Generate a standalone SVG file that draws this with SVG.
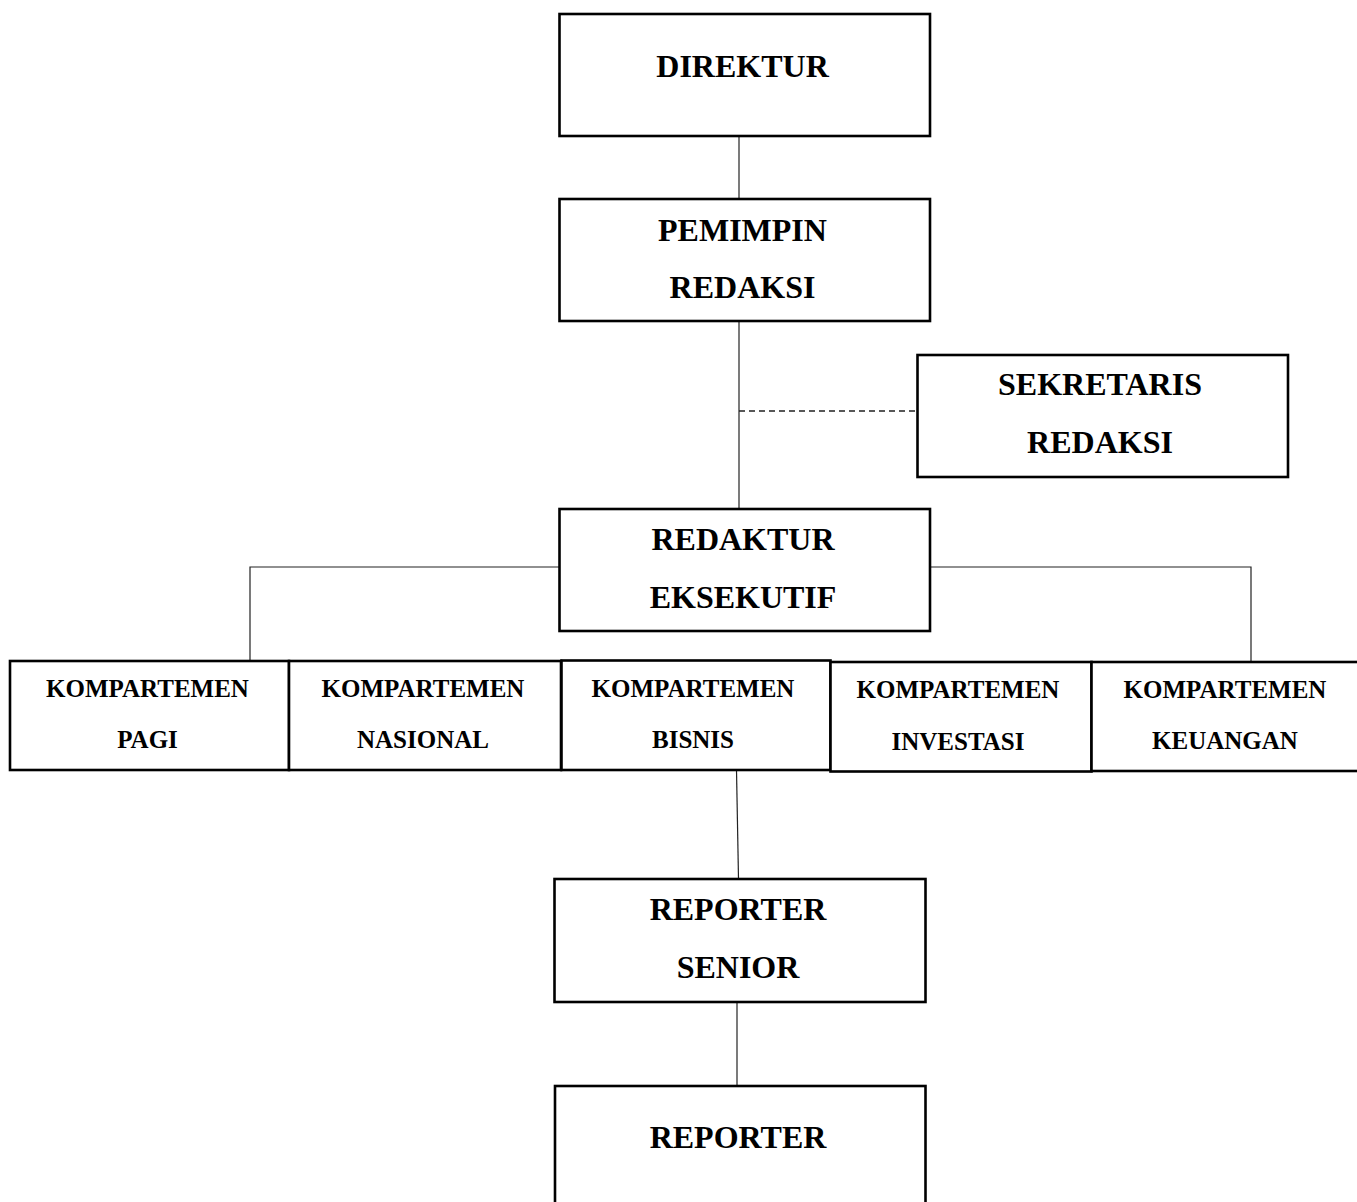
<svg xmlns="http://www.w3.org/2000/svg" width="1357" height="1202" viewBox="0 0 1357 1202">
<style>
.box{fill:#fff;stroke:#000;stroke-width:2.6}
.t{font-family:"Liberation Serif","Times New Roman",serif;font-weight:bold;font-size:32px;fill:#000;text-anchor:middle}
.s{font-family:"Liberation Serif","Times New Roman",serif;font-weight:bold;font-size:25px;fill:#000;text-anchor:middle}
.c{fill:none;stroke:#222;stroke-width:1.2}
.d{fill:none;stroke:#222;stroke-width:1.6;stroke-dasharray:6 4}
</style>
<rect width="1357" height="1202" fill="#fff"/>
<g id="connectors">
<line class="c" x1="739" y1="136" x2="739" y2="199"/>
<line class="c" x1="739" y1="321" x2="739" y2="509"/>
<line class="d" x1="739" y1="411" x2="917" y2="411"/>
<polyline class="c" points="559,567 250,567 250,661"/>
<polyline class="c" points="930,567 1251,567 1251,662"/>
<line class="c" x1="736.5" y1="770" x2="738.5" y2="879"/>
<line class="c" x1="737" y1="1002" x2="737" y2="1086"/>
</g>
<g id="direktur">
<rect class="box" x="559.5" y="14" width="370.5" height="122"/>
<text class="t" x="742.5" y="77">DIREKTUR</text>
</g>
<g id="pemimpin-redaksi">
<rect class="box" x="559.5" y="199" width="370.5" height="122"/>
<text class="t" x="742.5" y="241">PEMIMPIN</text>
<text class="t" x="742.5" y="298">REDAKSI</text>
</g>
<g id="sekretaris-redaksi">
<rect class="box" x="917.5" y="355" width="370.5" height="122"/>
<text class="t" x="1100" y="395">SEKRETARIS</text>
<text class="t" x="1100" y="453">REDAKSI</text>
</g>
<g id="redaktur-eksekutif">
<rect class="box" x="559.5" y="509" width="370.5" height="122"/>
<text class="t" x="743" y="550">REDAKTUR</text>
<text class="t" x="743" y="608">EKSEKUTIF</text>
</g>
<g id="komp-pagi">
<rect class="box" x="10" y="661" width="279" height="109"/>
<text class="s" x="147.5" y="697">KOMPARTEMEN</text>
<text class="s" x="147.5" y="748">PAGI</text>
</g>
<g id="komp-nasional">
<rect class="box" x="289" y="661" width="272" height="109"/>
<text class="s" x="423" y="697">KOMPARTEMEN</text>
<text class="s" x="423" y="748">NASIONAL</text>
</g>
<g id="komp-bisnis">
<rect class="box" x="561.5" y="660.5" width="269" height="109.5"/>
<text class="s" x="693" y="697">KOMPARTEMEN</text>
<text class="s" x="693" y="748">BISNIS</text>
</g>
<g id="komp-investasi">
<rect class="box" x="830.5" y="662" width="261" height="109.5"/>
<text class="s" x="958" y="698">KOMPARTEMEN</text>
<text class="s" x="958" y="750">INVESTASI</text>
</g>
<g id="komp-keuangan">
<rect class="box" x="1091.5" y="662" width="270" height="109"/>
<text class="s" x="1225" y="698">KOMPARTEMEN</text>
<text class="s" x="1225" y="749">KEUANGAN</text>
</g>
<g id="reporter-senior">
<rect class="box" x="554.5" y="879" width="371" height="123"/>
<text class="t" x="738" y="920">REPORTER</text>
<text class="t" x="738" y="978">SENIOR</text>
</g>
<g id="reporter">
<rect class="box" x="555" y="1086" width="370.5" height="140"/>
<text class="t" x="738" y="1148">REPORTER</text>
</g>
</svg>
